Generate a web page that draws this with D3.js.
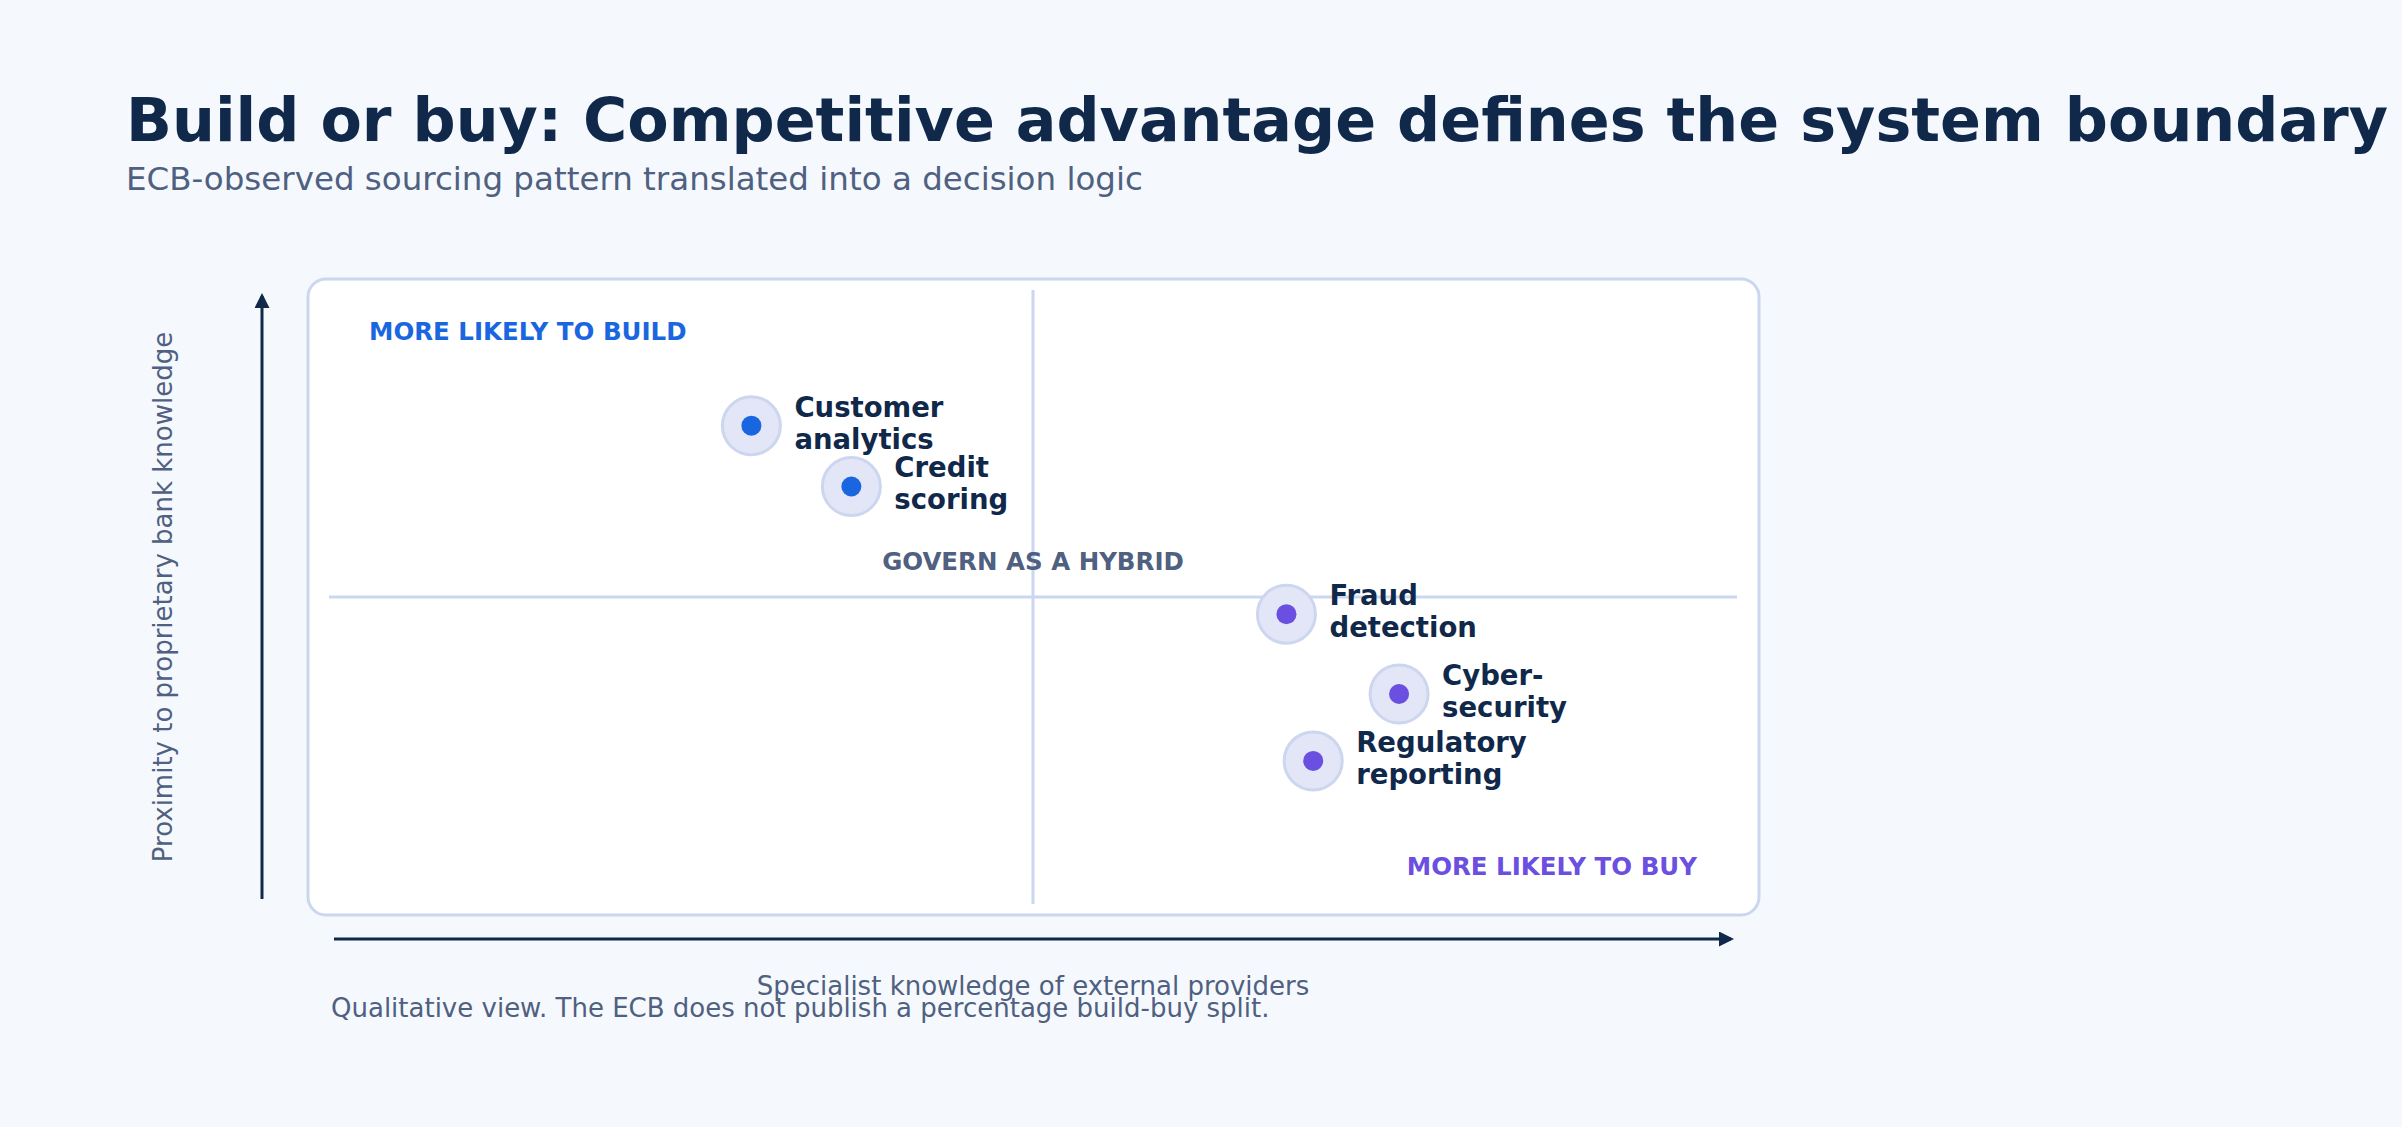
<!DOCTYPE html>
<html><head><meta charset="utf-8">
<script src="https://cdn.jsdelivr.net/npm/d3@7"></script>
<style>body{margin:0;background:#f5f9fe;font-family:"DejaVu Sans",sans-serif}</style>
</head><body><svg id="c" width="2402" height="1127"></svg>
<script>
const names = [["Customer","analytics"],["Credit","scoring"],["Fraud","detection"],["Cyber-","security"],["Regulatory","reporting"]];
const xVals = [30, 37.1, 68, 76, 69.9];
const yVals = [77.9, 68, 47.2, 34.2, 23.3];
const groups = ["build","build","buy","buy","buy"];
const quadrantLabels = ["MORE LIKELY TO BUILD","GOVERN AS A HYBRID","MORE LIKELY TO BUY"];

const svg = d3.select("#c");
const x = d3.scaleLinear().domain([0,100]).range([329,1737]);
const y = d3.scaleLinear().domain([0,100]).range([904,290]);
const col = {build:"#1a66e0", buy:"#6a4fe0"};
const dark="#10284a", grey="#4f6080";

svg.append("rect").attr("width",2402).attr("height",1127).attr("fill","#f5f9fe");
svg.append("text").attr("x",126).attr("y",141).attr("font-size",60.3).attr("font-weight","bold").attr("fill",dark)
  .text("Build or buy: Competitive advantage defines the system boundary");
svg.append("text").attr("x",126).attr("y",190).attr("font-size",32.5).attr("fill",grey)
  .text("ECB-observed sourcing pattern translated into a decision logic");

svg.append("rect").attr("x",308).attr("y",279).attr("width",1451).attr("height",636).attr("rx",18)
  .attr("fill","#fff").attr("stroke","#cbd7ee").attr("stroke-width",3);
svg.append("line").attr("x1",x(50)).attr("x2",x(50)).attr("y1",290).attr("y2",904).attr("stroke","#cbd7ee").attr("stroke-width",3);
svg.append("line").attr("x1",329).attr("x2",1737).attr("y1",y(50)).attr("y2",y(50)).attr("stroke","#cbd7ee").attr("stroke-width",3);

const defs=svg.append("defs");
defs.append("marker").attr("id","ar").attr("viewBox","0 0 10 10").attr("refX",8).attr("refY",5)
  .attr("markerWidth",5).attr("markerHeight",5).attr("orient","auto")
  .append("path").attr("d","M0,0L10,5L0,10z").attr("fill",dark);
svg.append("line").attr("x1",262).attr("x2",262).attr("y1",899).attr("y2",296).attr("stroke",dark).attr("stroke-width",3).attr("marker-end","url(#ar)");
svg.append("line").attr("x1",334).attr("x2",1731).attr("y1",939).attr("y2",939).attr("stroke",dark).attr("stroke-width",3).attr("marker-end","url(#ar)");

svg.append("text").attr("x",369).attr("y",340).attr("font-size",24.5).attr("font-weight","bold").attr("fill",col.build).text(quadrantLabels[0]);
svg.append("text").attr("x",x(50)).attr("y",570).attr("text-anchor","middle").attr("font-size",24.5).attr("font-weight","bold").attr("fill",grey).text(quadrantLabels[1]);
svg.append("text").attr("x",1697).attr("y",875).attr("text-anchor","end").attr("font-size",24.5).attr("font-weight","bold").attr("fill",col.buy).text(quadrantLabels[2]);

const g = svg.selectAll("g.pt").data(names.map((n,i)=>({n,x:xVals[i],y:yVals[i],g:groups[i]}))).join("g")
  .attr("transform",d=>`translate(${x(d.x)},${y(d.y)})`);
g.append("circle").attr("r",29).attr("fill","#e3e6f7").attr("stroke","#cdd6ef").attr("stroke-width",3);
g.append("circle").attr("r",10).attr("fill",d=>col[d.g]);
g.append("text").attr("font-size",27.5).attr("font-weight","bold").attr("fill",dark)
  .selectAll("tspan").data(d=>d.n).join("tspan").attr("x",43).attr("y",(d,i)=>i===0?-9:23).text(d=>d);

svg.append("text").attr("x",x(50)).attr("y",995).attr("text-anchor","middle").attr("font-size",26).attr("fill",grey).text("Specialist knowledge of external providers");
svg.append("text").attr("x",331).attr("y",1017).attr("font-size",26).attr("fill",grey).text("Qualitative view. The ECB does not publish a percentage build-buy split.");
svg.append("text").attr("transform",`translate(172,${y(50)}) rotate(-90)`).attr("text-anchor","middle").attr("font-size",26).attr("fill",grey).text("Proximity to proprietary bank knowledge");
</script></body></html>
